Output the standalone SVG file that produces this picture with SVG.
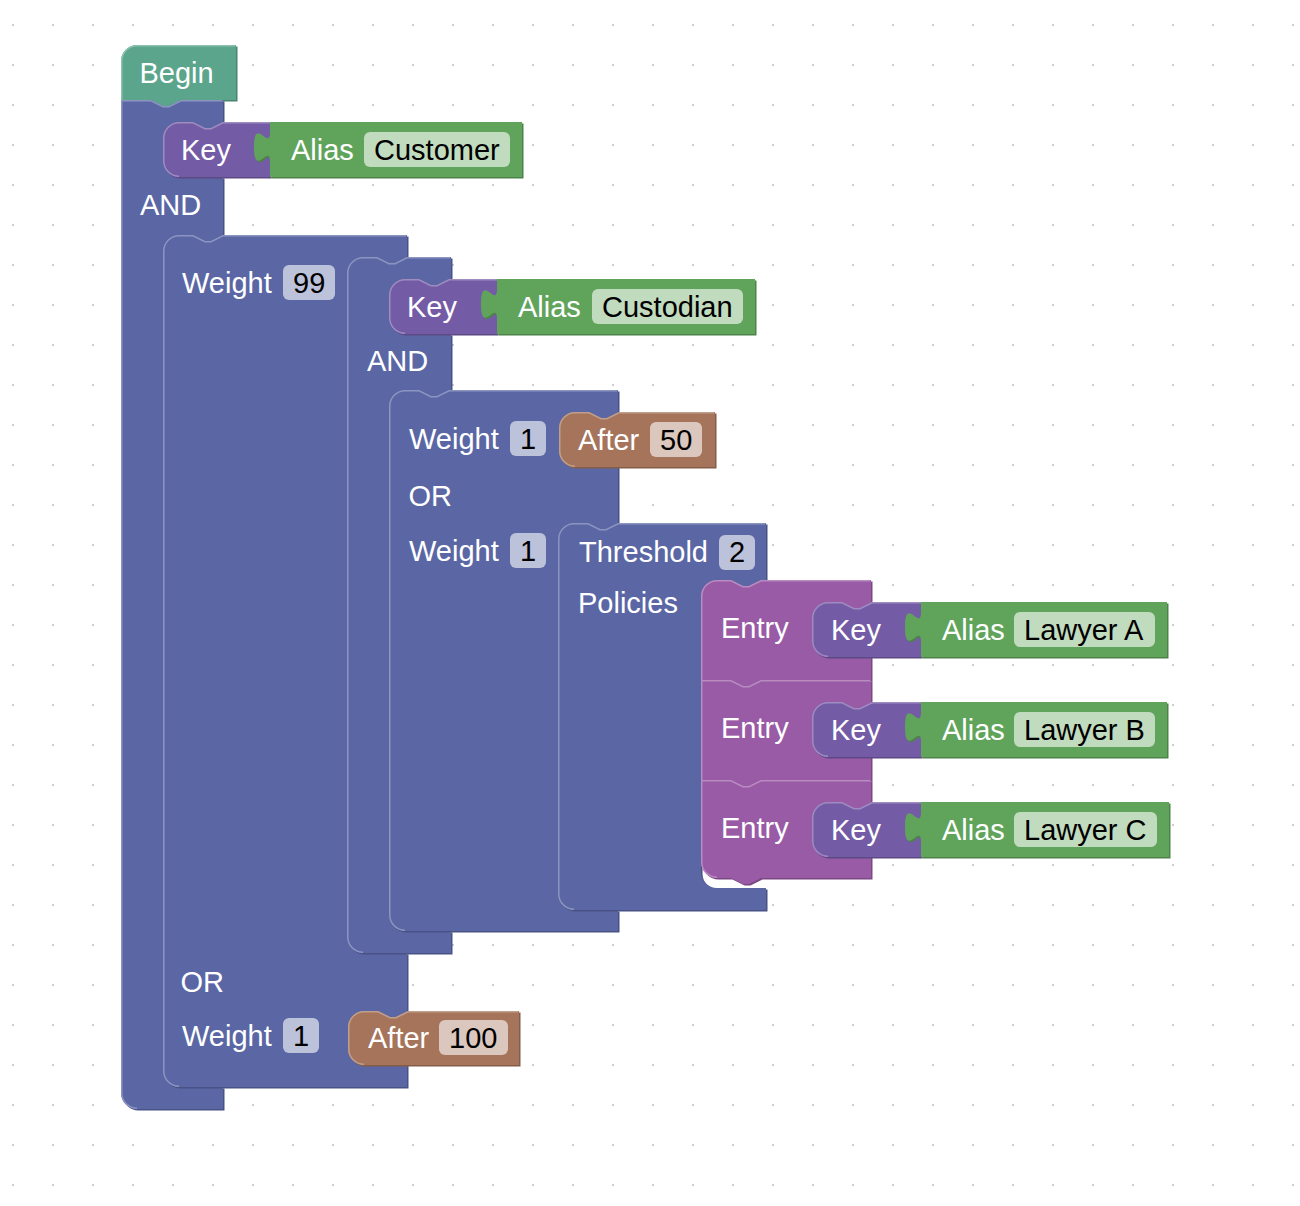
<svg xmlns="http://www.w3.org/2000/svg" width="1300" height="1206" viewBox="0 0 1300 1206">
<defs>
<pattern id="grid" x="0" y="0" width="40" height="40" patternUnits="userSpaceOnUse"><circle cx="13" cy="25" r="1" fill="#bdbdbd"/></pattern>
<style>
text{font-family:"Liberation Sans",Arial,Helvetica,sans-serif;font-size:29px}
.lbl{fill:#fff}
.ftx{fill:#000}
.hl{fill:none;stroke-width:1.5}
.blue{fill:#5b67a5}.blue-d{fill:#495284}.blue-h{stroke:#8c95c0}
.key{fill:#745ba5}.key-d{fill:#5d4984}.key-h{stroke:#9e8cc0}
.ent{fill:#995ba5}.ent-d{fill:#7a4984}.ent-h{stroke:#b88cc0}
.grn{fill:#60a45c}.grn-d{fill:#4d834a}.grn-h{stroke:#8fbf8c}
.teal{fill:#5ba58c}.teal-d{fill:#498470}.teal-h{stroke:#8cc0af}
.brn{fill:#a5745b}.brn-d{fill:#845d49}.brn-h{stroke:#c09e8c}
.fb{fill:#bdc2db}.fg{fill:#c0dbbe}.fr{fill:#dbc7bd}
</style>
<path id="s-begin" d="M121,61a16,16 0 0 1 16-16H236V100H181l-12,6-6,0-12-6H121Z"/>
<path id="s-A" d="M121,100H151l12,6 6,0 12-6H223V122l-12,6-6,0-12-6H179a16,16 0 0 0-16,16V161a16,16 0 0 0 16,16H223V235l-12,6-6,0-12-6H179a16,16 0 0 0-16,16V1071a16,16 0 0 0 16,16H223V1109H137a16,16 0 0 1-16-16Z"/>
<path id="s-B" d="M163,251a16,16 0 0 1 16-16H193l12,6 6,0 12-6H407V257l-12,6-6,0-12-6H363a16,16 0 0 0-16,16V937a16,16 0 0 0 16,16H407V1087H179a16,16 0 0 1-16-16Z"/>
<path id="s-C" d="M347,273a16,16 0 0 1 16-16H377l12,6 6,0 12-6H451V279H449l-12,6-6,0-12-6H405a16,16 0 0 0-16,16V318a16,16 0 0 0 16,16H451V390H449l-12,6-6,0-12-6H405a16,16 0 0 0-16,16V915a16,16 0 0 0 16,16H451V953H363a16,16 0 0 1-16-16Z"/>
<path id="s-D" d="M389,406a16,16 0 0 1 16-16H419l12,6 6,0 12-6H618V523l-12,6-6,0-12-6H574a16,16 0 0 0-16,16V894a16,16 0 0 0 16,16H618V931H405a16,16 0 0 1-16-16Z"/>
<path id="s-E" d="M558,539a16,16 0 0 1 16-16H588l12,6 6,0 12-6H766V580H761l-12,6-6,0-12-6H717a16,16 0 0 0-16,16V872a16,16 0 0 0 16,16H766V910H574a16,16 0 0 1-16-16Z"/>
<path id="s-e1" d="M701,596a16,16 0 0 1 16-16H731l12,6 6,0 12-6H871V680H761l-12,6-6,0-12-6H701Z"/>
<path id="s-e2" d="M701,680H731l12,6 6,0 12-6H871V780H761l-12,6-6,0-12-6H701Z"/>
<path id="s-e3" d="M701,780H731l12,6 6,0 12-6H871V878H761l-12,6-6,0-12-6H717a16,16 0 0 1-16-16Z"/>
<path id="s-k1" d="M163,138a16,16 0 0 1 16-16H193l12,6 6,0 12-6H270V177H179a16,16 0 0 1-16-16Z"/>
<path id="s-k2" d="M389,295a16,16 0 0 1 16-16H419l12,6 6,0 12-6H497V334H405a16,16 0 0 1-16-16Z"/>
<path id="s-k3" d="M812,618a16,16 0 0 1 16-16H842l12,6 6,0 12-6H921V657H828a16,16 0 0 1-16-16Z"/>
<path id="s-k4" d="M812,718a16,16 0 0 1 16-16H842l12,6 6,0 12-6H921V757H828a16,16 0 0 1-16-16Z"/>
<path id="s-k5" d="M812,818a16,16 0 0 1 16-16H842l12,6 6,0 12-6H921V857H828a16,16 0 0 1-16-16Z"/>
<path id="s-a1" d="M270,122H522V177H270V162c0-20-16,17-16-15s16,5 16-15Z"/>
<path id="s-a2" d="M497,279H755V334H497V319c0-20-16,17-16-15s16,5 16-15Z"/>
<path id="s-a3" d="M921,602H1167V657H921V642c0-20-16,17-16-15s16,5 16-15Z"/>
<path id="s-a4" d="M921,702H1167V757H921V742c0-20-16,17-16-15s16,5 16-15Z"/>
<path id="s-a5" d="M921,802H1169V857H921V842c0-20-16,17-16-15s16,5 16-15Z"/>
<path id="s-af50" d="M559,428a16,16 0 0 1 16-16H589l12,6 6,0 12-6H715V467H575a16,16 0 0 1-16-16Z"/>
<path id="s-af100" d="M348,1027a16,16 0 0 1 16-16H378l12,6 6,0 12-6H519V1065H364a16,16 0 0 1-16-16Z"/>
</defs>
<rect width="1300" height="1206" fill="#fff"/>
<rect width="1300" height="1206" fill="url(#grid)"/>
<g id="connectors"/>
<g id="begin">
<use href="#s-begin" class="teal-d" transform="translate(1.5,1.5)"/><use href="#s-begin" class="teal"/>
<path class="hl teal-h" d="M121.75,100V61a15.25,15.25 0 0 1 15.25-15.25H235.25"/>
<text class="lbl" x="139.5" y="82.5">Begin</text>
</g>
<g id="and-block">
<use href="#s-A" class="blue-d" transform="translate(1.5,1.5)"/><use href="#s-A" class="blue"/>
<path class="hl blue-h" d="M137,1108.25a15.25,15.25 0 0 1-15.25-15.25V100.75H151l12,6 6,0 12-6H222.25"/>
<text class="lbl" x="140" y="215">AND</text>
</g>
<g id="key-customer">
<use href="#s-k1" class="key-d" transform="translate(1.5,1.5)"/><use href="#s-k1" class="key"/>
<path class="hl key-h" d="M179,176.25a15.25,15.25 0 0 1-15.25-15.25V138a15.25,15.25 0 0 1 15.25-15.25H193l12,6 6,0 12-6H270"/>
<text class="lbl" x="181" y="160">Key</text>
</g>
<g id="alias-customer">
<use href="#s-a1" class="grn-d" transform="translate(1.5,1.5)"/><use href="#s-a1" class="grn"/>
<text class="lbl" x="291" y="160">Alias</text>
<rect class="fg" x="364" y="132" width="146" height="35" rx="6"/>
<text class="ftx" x="374" y="160">Customer</text>
</g>
<g id="weight-or">
<use href="#s-B" class="blue-d" transform="translate(1.5,1.5)"/><use href="#s-B" class="blue"/>
<path class="hl blue-h" d="M179,1086.25a15.25,15.25 0 0 1-15.25-15.25V251a15.25,15.25 0 0 1 15.25-15.25H193l12,6 6,0 12-6H406.25"/>
<text class="lbl" x="182" y="292.5">Weight</text>
<rect class="fb" x="283" y="265" width="52" height="35" rx="6"/>
<text class="ftx" x="293" y="292.5">99</text>
<text class="lbl" x="180.5" y="992">OR</text>
<text class="lbl" x="182" y="1046">Weight</text>
<rect class="fb" x="283" y="1018" width="36" height="35" rx="6"/>
<text class="ftx" x="293" y="1046">1</text>
</g>
<g id="and-inner">
<use href="#s-C" class="blue-d" transform="translate(1.5,1.5)"/><use href="#s-C" class="blue"/>
<path class="hl blue-h" d="M363,952.25a15.25,15.25 0 0 1-15.25-15.25V273a15.25,15.25 0 0 1 15.25-15.25H377l12,6 6,0 12-6H450.25"/>
<text class="lbl" x="367" y="371">AND</text>
</g>
<g id="key-custodian">
<use href="#s-k2" class="key-d" transform="translate(1.5,1.5)"/><use href="#s-k2" class="key"/>
<path class="hl key-h" d="M405,333.25a15.25,15.25 0 0 1-15.25-15.25V295a15.25,15.25 0 0 1 15.25-15.25H419l12,6 6,0 12-6H497"/>
<text class="lbl" x="407" y="317">Key</text>
</g>
<g id="alias-custodian">
<use href="#s-a2" class="grn-d" transform="translate(1.5,1.5)"/><use href="#s-a2" class="grn"/>
<text class="lbl" x="518" y="317">Alias</text>
<rect class="fg" x="592" y="289" width="151" height="35" rx="6"/>
<text class="ftx" x="602" y="317">Custodian</text>
</g>
<g id="weight-or-inner">
<use href="#s-D" class="blue-d" transform="translate(1.5,1.5)"/><use href="#s-D" class="blue"/>
<path class="hl blue-h" d="M405,930.25a15.25,15.25 0 0 1-15.25-15.25V406a15.25,15.25 0 0 1 15.25-15.25H419l12,6 6,0 12-6H617.25"/>
<text class="lbl" x="409" y="449">Weight</text>
<rect class="fb" x="510" y="421" width="36" height="35" rx="6"/>
<text class="ftx" x="520" y="449">1</text>
<text class="lbl" x="408.5" y="506">OR</text>
<text class="lbl" x="409" y="561">Weight</text>
<rect class="fb" x="510" y="533" width="36" height="35" rx="6"/>
<text class="ftx" x="520" y="561">1</text>
</g>
<g id="after-50">
<use href="#s-af50" class="brn-d" transform="translate(1.5,1.5)"/><use href="#s-af50" class="brn"/>
<path class="hl brn-h" d="M575,466.25a15.25,15.25 0 0 1-15.25-15.25V428a15.25,15.25 0 0 1 15.25-15.25H589l12,6 6,0 12-6H714.25"/>
<text class="lbl" x="578" y="450">After</text>
<rect class="fr" x="650" y="422" width="52" height="35" rx="6"/>
<text class="ftx" x="660" y="450">50</text>
</g>
<g id="threshold">
<use href="#s-E" class="blue-d" transform="translate(1.5,1.5)"/><use href="#s-E" class="blue"/>
<path class="hl blue-h" d="M574,909.25a15.25,15.25 0 0 1-15.25-15.25V539a15.25,15.25 0 0 1 15.25-15.25H588l12,6 6,0 12-6H765.25"/>
<text class="lbl" x="579" y="562">Threshold</text>
<rect class="fb" x="719" y="535" width="36" height="35" rx="6"/>
<text class="ftx" x="729" y="562">2</text>
<text class="lbl" x="578" y="613">Policies</text>
</g>
<g id="entry-a">
<use href="#s-e1" class="ent-d" transform="translate(1.5,1.5)"/><use href="#s-e1" class="ent"/>
<path class="hl ent-h" d="M701.75,680V596a15.25,15.25 0 0 1 15.25-15.25H731l12,6 6,0 12-6H870.25"/>
<text class="lbl" x="721" y="638">Entry</text>
</g>
<g id="key-a">
<use href="#s-k3" class="key-d" transform="translate(1.5,1.5)"/><use href="#s-k3" class="key"/>
<path class="hl key-h" d="M828,656.25a15.25,15.25 0 0 1-15.25-15.25V618a15.25,15.25 0 0 1 15.25-15.25H842l12,6 6,0 12-6H921"/>
<text class="lbl" x="831" y="640">Key</text>
</g>
<g id="alias-a">
<use href="#s-a3" class="grn-d" transform="translate(1.5,1.5)"/><use href="#s-a3" class="grn"/>
<text class="lbl" x="942" y="640">Alias</text>
<rect class="fg" x="1014" y="612" width="141" height="35" rx="6"/>
<text class="ftx" x="1024" y="640">Lawyer A</text>
</g>
<g id="entry-b">
<use href="#s-e2" class="ent-d" transform="translate(1.5,1.5)"/><use href="#s-e2" class="ent"/>
<path class="hl ent-h" d="M701.75,780V680.75H731l12,6 6,0 12-6H870.25"/>
<text class="lbl" x="721" y="738">Entry</text>
</g>
<g id="key-b">
<use href="#s-k4" class="key-d" transform="translate(1.5,1.5)"/><use href="#s-k4" class="key"/>
<path class="hl key-h" d="M828,756.25a15.25,15.25 0 0 1-15.25-15.25V718a15.25,15.25 0 0 1 15.25-15.25H842l12,6 6,0 12-6H921"/>
<text class="lbl" x="831" y="740">Key</text>
</g>
<g id="alias-b">
<use href="#s-a4" class="grn-d" transform="translate(1.5,1.5)"/><use href="#s-a4" class="grn"/>
<text class="lbl" x="942" y="740">Alias</text>
<rect class="fg" x="1014" y="712" width="141" height="35" rx="6"/>
<text class="ftx" x="1024" y="740">Lawyer B</text>
</g>
<g id="entry-c">
<use href="#s-e3" class="ent-d" transform="translate(1.5,1.5)"/><use href="#s-e3" class="ent"/>
<path class="hl ent-h" d="M717,877.25a15.25,15.25 0 0 1-15.25-15.25V780.75H731l12,6 6,0 12-6H870.25"/>
<text class="lbl" x="721" y="838">Entry</text>
</g>
<g id="key-c">
<use href="#s-k5" class="key-d" transform="translate(1.5,1.5)"/><use href="#s-k5" class="key"/>
<path class="hl key-h" d="M828,856.25a15.25,15.25 0 0 1-15.25-15.25V818a15.25,15.25 0 0 1 15.25-15.25H842l12,6 6,0 12-6H921"/>
<text class="lbl" x="831" y="840">Key</text>
</g>
<g id="alias-c">
<use href="#s-a5" class="grn-d" transform="translate(1.5,1.5)"/><use href="#s-a5" class="grn"/>
<text class="lbl" x="942" y="840">Alias</text>
<rect class="fg" x="1014" y="812" width="143" height="35" rx="6"/>
<text class="ftx" x="1024" y="840">Lawyer C</text>
</g>
<g id="after-100">
<use href="#s-af100" class="brn-d" transform="translate(1.5,1.5)"/><use href="#s-af100" class="brn"/>
<path class="hl brn-h" d="M364,1064.25a15.25,15.25 0 0 1-15.25-15.25V1027a15.25,15.25 0 0 1 15.25-15.25H378l12,6 6,0 12-6H518.25"/>
<text class="lbl" x="368" y="1048">After</text>
<rect class="fr" x="439" y="1020" width="69" height="35" rx="6"/>
<text class="ftx" x="449" y="1048">100</text>
</g>
</svg>
